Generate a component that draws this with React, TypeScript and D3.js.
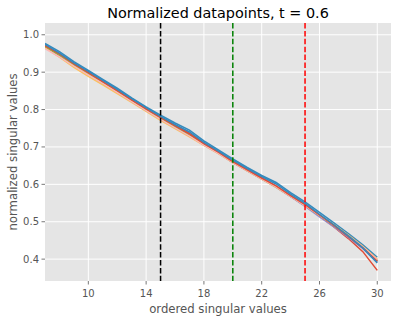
import * as d3 from "d3"

// x positions of the ordered singular values shown
const ranks = [7, 8, 9, 10, 11, 12, 13, 14, 15, 16, 17, 18, 19, 20, 21, 22, 23, 24, 25, 26, 27, 28, 29, 30]

// normalized singular values per run (ggplot colour cycle order)
const runRed = [0.970, 0.947, 0.921, 0.898, 0.874, 0.850, 0.825, 0.800, 0.778, 0.756, 0.736, 0.710, 0.687, 0.662, 0.640, 0.617, 0.594, 0.569, 0.544, 0.515, 0.486, 0.455, 0.420, 0.370]
const runBlue = [0.977, 0.955, 0.928, 0.905, 0.881, 0.857, 0.831, 0.807, 0.785, 0.764, 0.745, 0.716, 0.692, 0.668, 0.645, 0.624, 0.605, 0.578, 0.553, 0.525, 0.497, 0.468, 0.438, 0.405]
const runPurple = [0.966, 0.944, 0.918, 0.895, 0.871, 0.847, 0.822, 0.797, 0.774, 0.752, 0.730, 0.705, 0.683, 0.658, 0.636, 0.614, 0.592, 0.567, 0.541, 0.513, 0.486, 0.458, 0.428, 0.392]
const runGray = [0.968, 0.945, 0.919, 0.896, 0.872, 0.848, 0.823, 0.798, 0.775, 0.753, 0.731, 0.706, 0.684, 0.659, 0.637, 0.615, 0.593, 0.568, 0.543, 0.516, 0.489, 0.461, 0.431, 0.395]
const runYellow = [0.965, 0.940, 0.913, 0.889, 0.866, 0.843, 0.819, 0.795, 0.771, 0.749, 0.727, 0.704, 0.682, 0.658, 0.636, 0.614, 0.592, 0.568, 0.544, 0.518, 0.492, 0.464, 0.434, 0.400]
const runGreen = [0.969, 0.946, 0.919, 0.895, 0.871, 0.847, 0.822, 0.798, 0.775, 0.752, 0.730, 0.706, 0.684, 0.660, 0.638, 0.616, 0.594, 0.569, 0.544, 0.517, 0.490, 0.462, 0.432, 0.397]
const runPink = [0.963, 0.941, 0.916, 0.893, 0.870, 0.846, 0.821, 0.797, 0.774, 0.751, 0.729, 0.705, 0.683, 0.659, 0.637, 0.615, 0.593, 0.568, 0.543, 0.517, 0.490, 0.462, 0.433, 0.398]
const runRed2 = [0.971, 0.949, 0.922, 0.899, 0.875, 0.851, 0.826, 0.802, 0.779, 0.757, 0.735, 0.709, 0.686, 0.661, 0.639, 0.617, 0.596, 0.570, 0.546, 0.518, 0.490, 0.461, 0.430, 0.394]
const runBlue2 = [0.974, 0.951, 0.925, 0.902, 0.878, 0.854, 0.829, 0.805, 0.782, 0.760, 0.740, 0.712, 0.689, 0.665, 0.642, 0.621, 0.601, 0.574, 0.549, 0.520, 0.492, 0.462, 0.430, 0.390]

const runs = [runRed, runBlue, runPurple, runGray, runYellow, runGreen, runPink, runRed2, runBlue2]
const colors = ["#E24A33", "#348ABD", "#988ED5", "#777777", "#FBC15E", "#8EBA42", "#FFB5B8", "#E24A33", "#348ABD"]

const xTicks = [10, 14, 18, 22, 26, 30]
const yTicks = [0.4, 0.5, 0.6, 0.7, 0.8, 0.9, 1.0]
const cutoffs = [15, 20, 25]
const cutoffColors = ["#000000", "#008000", "#FF0000"]

export default function App() {
    const width = 399
    const height = 320
    const margin = { top: 23, right: 8, bottom: 39, left: 45 }
    const innerW = width - margin.left - margin.right
    const innerH = height - margin.top - margin.bottom
    const font = "DejaVu Sans, sans-serif"

    const x = d3.scaleLinear().domain([7, 30.95]).range([0, innerW])
    const y = d3.scaleLinear().domain([0.3415, 1.0315]).range([innerH, 0])

    const line = d3
        .line<number>()
        .x((_, i) => x(ranks[i]))
        .y((d) => y(d))

    return (
        <svg
            width={width}
            height={height}
            style={{ position: "absolute", left: 0, top: 0, display: "block", background: "#fff" }}
        >
            <defs>
                <clipPath id="plot">
                    <rect width={innerW} height={innerH} />
                </clipPath>
            </defs>
            <text
                x={margin.left + innerW / 2}
                y={18}
                textAnchor="middle"
                fontSize="14.4"
                fontFamily={font}
                fill="#000"
            >
                Normalized datapoints, t = 0.6
            </text>
            <g transform={`translate(${margin.left},${margin.top})`}>
                <rect width={innerW} height={innerH} fill="#E5E5E5" />

                {/* Grid */}
                {xTicks.map((t) => (
                    <line key={`gx${t}`} x1={x(t)} x2={x(t)} y1={0} y2={innerH} stroke="#fff" strokeWidth={1} />
                ))}
                {yTicks.map((t) => (
                    <line key={`gy${t}`} x1={0} x2={innerW} y1={y(t)} y2={y(t)} stroke="#fff" strokeWidth={1} />
                ))}

                {/* Runs */}
                <g clipPath="url(#plot)">
                    {runs.map((r, i) => (
                        <path key={i} d={line(r) ?? ""} fill="none" stroke={colors[i]} strokeWidth={1.5} />
                    ))}
                    {cutoffs.map((c, i) => (
                        <line
                            key={`c${c}`}
                            x1={x(c)}
                            x2={x(c)}
                            y1={0}
                            y2={innerH}
                            stroke={cutoffColors[i]}
                            strokeWidth={1.5}
                            strokeDasharray="5.5,2.4"
                        />
                    ))}
                </g>

                {/* X Axis */}
                <g transform={`translate(0,${innerH})`}>
                    {xTicks.map((t) => (
                        <g key={t} transform={`translate(${x(t)},0)`}>
                            <line y2={3.5} stroke="#555" strokeWidth={0.8} />
                            <text y={16} textAnchor="middle" fontSize="10" fontFamily={font} fill="#555">
                                {t}
                            </text>
                        </g>
                    ))}
                    <text
                        x={innerW / 2}
                        y={32}
                        textAnchor="middle"
                        fontSize="11.7"
                        fontFamily={font}
                        fill="#555"
                    >
                        ordered singular values
                    </text>
                </g>

                {/* Y Axis */}
                {yTicks.map((t) => (
                    <g key={t} transform={`translate(0,${y(t)})`}>
                        <line x2={-3.5} stroke="#555" strokeWidth={0.8} />
                        <text x={-6} dy="0.35em" textAnchor="end" fontSize="10" fontFamily={font} fill="#555">
                            {t.toFixed(1)}
                        </text>
                    </g>
                ))}
                <text
                    transform={`translate(${-28},${innerH / 2}) rotate(-90)`}
                    textAnchor="middle"
                    fontSize="11.7"
                    fontFamily={font}
                    fill="#555"
                >
                    normalized singular values
                </text>
            </g>
        </svg>
    )
}
